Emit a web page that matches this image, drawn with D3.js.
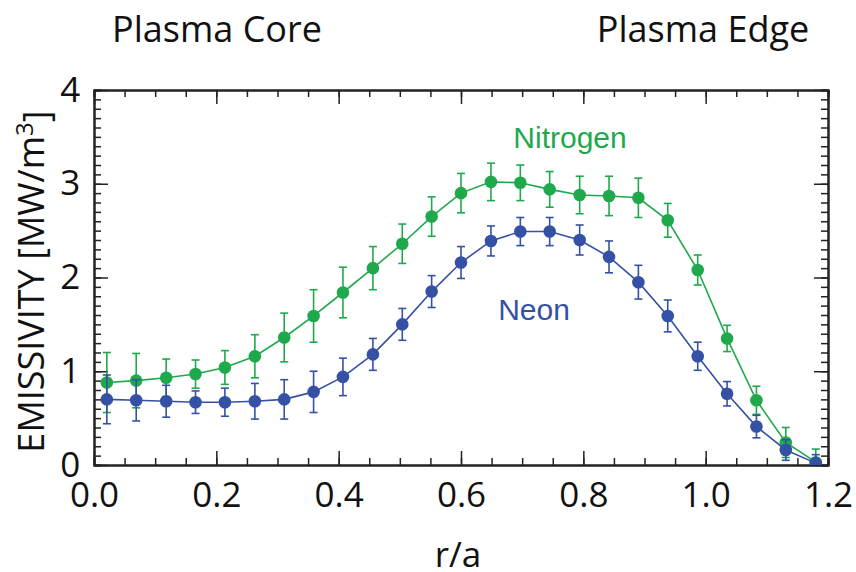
<!DOCTYPE html>
<html>
<head>
<meta charset="utf-8">
<script src="https://cdn.jsdelivr.net/npm/d3@7"></script>
<style>
  body { margin: 0; background: #fff; }
  .label { font-family: "Open Sans", sans-serif; fill: #111; }
  .axis text { font-family: "Open Sans", sans-serif; font-size: 35px; fill: #111; }
  .axis path, .axis line { stroke: #222; }
</style>
</head>
<body>
<svg id="chart" width="856" height="572"></svg>
<script>
// r/a positions of the measurement chords
const rA = [0.021, 0.069, 0.118, 0.166, 0.214, 0.263, 0.311, 0.359, 0.407, 0.456, 0.504, 0.552, 0.600,
            0.649, 0.697, 0.745, 0.794, 0.842, 0.890, 0.938, 0.987, 1.035, 1.083, 1.131, 1.180];

// emissivity [MW/m^3]
const nitrogen = [0.88, 0.90, 0.93, 0.97, 1.04, 1.16, 1.36, 1.59, 1.84, 2.10, 2.36, 2.65, 2.90,
                  3.02, 3.01, 2.94, 2.88, 2.87, 2.85, 2.61, 2.08, 1.35, 0.69, 0.24, 0.03];
const nitrogenErr = [0.32, 0.29, 0.20, 0.15, 0.18, 0.23, 0.26, 0.28, 0.27, 0.23, 0.21, 0.21, 0.21,
                     0.20, 0.19, 0.19, 0.20, 0.21, 0.21, 0.18, 0.16, 0.14, 0.15, 0.16, 0.14];

const neon = [0.70, 0.69, 0.68, 0.67, 0.67, 0.68, 0.70, 0.78, 0.94, 1.18, 1.50, 1.85, 2.16,
              2.39, 2.49, 2.49, 2.40, 2.22, 1.95, 1.59, 1.16, 0.76, 0.41, 0.16, 0.02];
const neonErr = [0.26, 0.22, 0.17, 0.12, 0.15, 0.19, 0.21, 0.22, 0.20, 0.17, 0.17, 0.17, 0.17,
                 0.16, 0.15, 0.15, 0.16, 0.17, 0.18, 0.17, 0.15, 0.13, 0.12, 0.11, 0.09];

const xTicks = [0, 0.2, 0.4, 0.6, 0.8, 1.0, 1.2];
const yTicks = [0, 1, 2, 3, 4];

const green = '#1fa94c';
const blue = '#3451a6';

const svg = d3.select('#chart');
const margin = {top: 90, right: 28, bottom: 107, left: 94};
const width = +svg.attr('width');
const height = +svg.attr('height');
const innerWidth = width - margin.left - margin.right;
const innerHeight = height - margin.top - margin.bottom;

const xScale = d3.scaleLinear().domain([0, 1.2]).range([0, innerWidth]);
const yScale = d3.scaleLinear().domain([0, 4]).range([innerHeight, 0]);

const chart = svg.append('g')
    .attr('transform', `translate(${margin.left},${margin.top})`);

// minor ticks first (every 0.05 in x, 0.1 in y), all four sides, pointing in
const xMinor = d3.range(0, 1.2001, 0.05);
const yMinor = d3.range(0, 4.0001, 0.1);
const minorX = s => s.tickValues(xMinor).tickSize(-7).tickFormat('');
const minorY = s => s.tickValues(yMinor).tickSize(-7).tickFormat('');

const tickOnly = [];
tickOnly.push(chart.append('g').attr('class', 'axis').attr('transform', `translate(0,${innerHeight})`)
  .call(minorX(d3.axisBottom(xScale))));
tickOnly.push(chart.append('g').attr('class', 'axis')
  .call(minorX(d3.axisTop(xScale))));
tickOnly.push(chart.append('g').attr('class', 'axis')
  .call(minorY(d3.axisLeft(yScale))));
tickOnly.push(chart.append('g').attr('class', 'axis').attr('transform', `translate(${innerWidth},0)`)
  .call(minorY(d3.axisRight(yScale))));

// major ticks
const xAxisG = chart.append('g').attr('class', 'axis').attr('transform', `translate(0,${innerHeight})`)
  .call(d3.axisBottom(xScale).tickValues(xTicks).tickSize(-14).tickSizeOuter(0).tickPadding(26)
    .tickFormat(d3.format('.1f')));
tickOnly.push(chart.append('g').attr('class', 'axis')
  .call(d3.axisTop(xScale).tickValues(xTicks).tickSize(-14).tickSizeOuter(0).tickFormat('')));
const yAxisG = chart.append('g').attr('class', 'axis')
  .call(d3.axisLeft(yScale).tickValues(yTicks).tickSize(-14).tickSizeOuter(0).tickPadding(26)
    .tickFormat(d3.format('d')));
tickOnly.push(chart.append('g').attr('class', 'axis').attr('transform', `translate(${innerWidth},0)`)
  .call(d3.axisRight(yScale).tickValues(yTicks).tickSize(-14).tickSizeOuter(0).tickFormat('')));

// the mirrored / minor axes carry no labels
tickOnly.forEach(g => g.selectAll('text').remove());

chart.selectAll('.axis path').attr('stroke-width', 2);
chart.selectAll('.axis line').attr('stroke-width', 1.5);
xAxisG.selectAll('text').attr('dy', '0.45em');
yAxisG.selectAll('text').attr('dx', '0.35em');

// data layer clipped to the frame
svg.append('clipPath').attr('id', 'plot-clip')
  .append('rect').attr('width', innerWidth).attr('height', innerHeight);
const plot = chart.append('g').attr('clip-path', 'url(#plot-clip)');

const series = [
  {name: 'Nitrogen', values: nitrogen, errs: nitrogenErr, colour: green},
  {name: 'Neon', values: neon, errs: neonErr, colour: blue}
];

const line = d3.line()
  .x(d => xScale(d.x))
  .y(d => yScale(d.y));

series.forEach(s => {
  const pts = rA.map((x, i) => ({x, y: s.values[i], e: s.errs[i]}));
  const g = plot.append('g');

  g.append('path')
    .datum(pts)
    .attr('fill', 'none')
    .attr('stroke', s.colour)
    .attr('stroke-width', 1.6)
    .attr('d', line);

  const bars = g.selectAll('.err').data(pts).enter().append('g').attr('class', 'err')
    .attr('stroke', s.colour).attr('stroke-width', 1.6);
  bars.append('line')
    .attr('x1', d => xScale(d.x)).attr('x2', d => xScale(d.x))
    .attr('y1', d => yScale(d.y - d.e)).attr('y2', d => yScale(d.y + d.e));
  bars.append('line')
    .attr('x1', d => xScale(d.x) - 4).attr('x2', d => xScale(d.x) + 4)
    .attr('y1', d => yScale(d.y + d.e)).attr('y2', d => yScale(d.y + d.e));
  bars.append('line')
    .attr('x1', d => xScale(d.x) - 4).attr('x2', d => xScale(d.x) + 4)
    .attr('y1', d => yScale(d.y - d.e)).attr('y2', d => yScale(d.y - d.e));

  g.selectAll('circle').data(pts).enter().append('circle')
    .attr('cx', d => xScale(d.x))
    .attr('cy', d => yScale(d.y))
    .attr('r', 6.3)
    .attr('fill', s.colour);
});

// series labels
chart.append('text')
  .attr('x', 570 - margin.left).attr('y', 148 - margin.top)
  .attr('text-anchor', 'middle')
  .style('font-family', '"Liberation Sans", Arial, sans-serif')
  .style('font-size', '30px')
  .attr('fill', green)
  .text('Nitrogen');
chart.append('text')
  .attr('x', 534 - margin.left).attr('y', 320 - margin.top)
  .attr('text-anchor', 'middle')
  .style('font-family', '"Liberation Sans", Arial, sans-serif')
  .style('font-size', '30px')
  .attr('fill', blue)
  .text('Neon');

// titles
svg.append('text').attr('class', 'label')
  .attr('x', 217).attr('y', 42).attr('text-anchor', 'middle')
  .style('font-size', '36px')
  .text('Plasma Core');
svg.append('text').attr('class', 'label')
  .attr('x', 703).attr('y', 42).attr('text-anchor', 'middle')
  .style('font-size', '36px')
  .text('Plasma Edge');

svg.append('text').attr('class', 'label')
  .attr('x', margin.left + innerWidth / 2 - 3).attr('y', 567)
  .attr('text-anchor', 'middle')
  .style('font-size', '35px')
  .text('r/a');

const yTitle = svg.append('text').attr('class', 'label')
  .attr('transform', `translate(44,${margin.top + innerHeight / 2 + 4}) rotate(-90)`)
  .attr('text-anchor', 'middle')
  .style('font-size', '36px');
yTitle.append('tspan').text('EMISSIVITY [MW/m');
yTitle.append('tspan').attr('dy', '-0.45em').style('font-size', '24px').text('3');
yTitle.append('tspan').attr('dy', '0.45em').text(']');
</script>
</body>
</html>
